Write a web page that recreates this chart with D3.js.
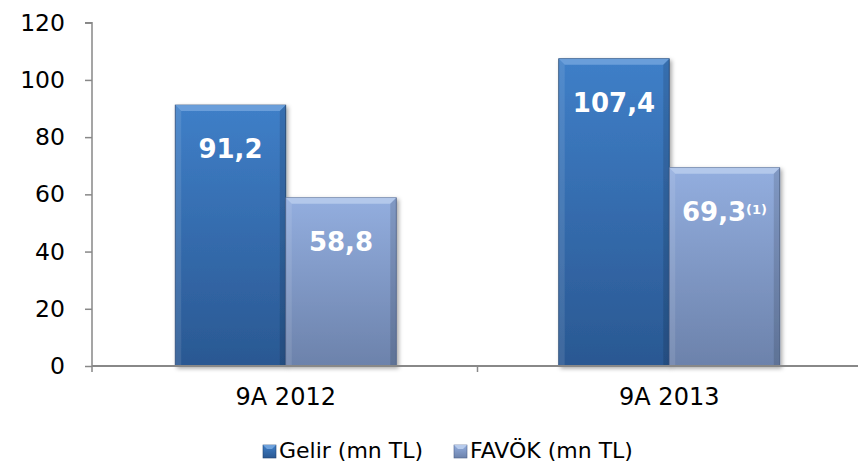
<!DOCTYPE html>
<html>
<head>
<meta charset="utf-8">
<script src="https://cdn.jsdelivr.net/npm/d3@7"></script>
<style>
  body { margin: 0; background: #fff; }
  svg text { font-family: "DejaVu Sans", Verdana, sans-serif; }
</style>
</head>
<body>
<svg id="chart" width="858" height="466"></svg>
<script>
// data
let categories = ["9A 2012", "9A 2013"];
let seriesNames = ["Gelir (mn TL)", "FAVÖK (mn TL)"];
let gelir = [91.2, 107.4];
let favok = [58.8, 69.3];
let valueLabels = [["91,2", "58,8"], ["107,4", "69,3"]];
let labelNotes = [["", ""], ["", "(1)"]];
let yTicks = [0, 20, 40, 60, 80, 100, 120];

let svg = d3.select("#chart");
let opt = {
    left: 92, right: 859, top: 22.7, bottom: 366,
    colors: [
        {top: "#3f7fc8", bottom: "#2a5892", hi: "#6fa2dc", edge: "#1f4270"},
        {top: "#93aedf", bottom: "#6c82ab", hi: "#b7cbec", edge: "#4d628a"}
    ]
};

let defs = svg.append("defs");
opt.colors.forEach((c, i) => {
    let g = defs.append("linearGradient")
        .attr("id", "grad" + i)
        .attr("x1", 0).attr("y1", 0).attr("x2", 0).attr("y2", 1);
    g.append("stop").attr("offset", "0%").attr("stop-color", c.top);
    g.append("stop").attr("offset", "100%").attr("stop-color", c.bottom);
});
let f = defs.append("filter").attr("id", "shadow")
    .attr("x", "-10%").attr("y", "-10%").attr("width", "130%").attr("height", "130%");
f.append("feDropShadow").attr("dx", 2).attr("dy", 2).attr("stdDeviation", 2)
    .attr("flood-color", "#000").attr("flood-opacity", 0.35);

let y = d3.scaleLinear().domain([0, 120]).range([opt.bottom, opt.top]);
let x0 = d3.scaleBand().domain(categories).range([opt.left + 2, opt.right + 2]).padding(0);
let x1 = d3.scaleBand().domain(seriesNames).range([0, x0.bandwidth()])
    .paddingInner(0).paddingOuter(0.735);

let data = categories.map((c, i) => ({cat: c, i: i, vals: [gelir[i], favok[i]]}));

// bars
let groups = svg.append("g").selectAll("g")
    .data(data).enter().append("g")
    .attr("transform", d => "translate(" + x0(d.cat) + ",0)");

groups.each(function (d) {
    let g = d3.select(this);
    d.vals.forEach((v, s) => {
        let bx = x1(seriesNames[s]), bw = x1.bandwidth();
        let by = y(v), bh = y(0) - y(v);
        let c = opt.colors[s];
        let b = g.append("g").attr("filter", "url(#shadow)");
        b.append("rect")
            .attr("x", bx).attr("y", by).attr("width", bw).attr("height", bh)
            .attr("fill", "url(#grad" + s + ")")
            .attr("stroke", c.edge).attr("stroke-width", 0.8);
        // bevel: light top edge, slightly lighter left, darker right
        let e = 6;
        b.append("path")
            .attr("d", `M${bx},${by}L${bx + bw},${by}L${bx + bw - e},${by + e}L${bx + e},${by + e}Z`)
            .attr("fill", c.hi).attr("opacity", 0.9);
        b.append("path")
            .attr("d", `M${bx},${by}L${bx + e},${by + e}L${bx + e},${by + bh}L${bx},${by + bh}Z`)
            .attr("fill", "#fff").attr("opacity", 0.1);
        b.append("path")
            .attr("d", `M${bx + bw},${by}L${bx + bw - e},${by + e}L${bx + bw - e},${by + bh}L${bx + bw},${by + bh}Z`)
            .attr("fill", "#000").attr("opacity", 0.12);

        let t = g.append("text")
            .attr("x", bx + bw / 2)
            .attr("y", by + 53)
            .attr("text-anchor", "middle")
            .attr("fill", "#fff")
            .style("font-size", "26px")
            .style("font-weight", "bold");
        t.append("tspan").text(valueLabels[d.i][s]);
        if (labelNotes[d.i][s]) {
            t.append("tspan")
                .attr("dy", -7)
                .style("font-size", "13px")
                .text(labelNotes[d.i][s]);
        }
    });
});

// y axis
let yAxis = svg.append("g")
    .attr("transform", "translate(" + opt.left + ",0)")
    .call(d3.axisLeft(y).tickValues(yTicks).tickSize(7).tickPadding(20));
yAxis.select(".domain").attr("stroke", "#888").attr("stroke-width", 1.5)
    .attr("d", `M-7,${opt.top}H0V${opt.bottom + 6}`);
yAxis.selectAll(".tick line").attr("stroke", "#888").attr("stroke-width", 1.5);
yAxis.selectAll(".tick text").attr("fill", "#000").style("font-size", "23.5px")
    .attr("font-family", null);

// x axis
let xAxis = svg.append("g")
    .attr("transform", "translate(0," + opt.bottom + ")");
xAxis.append("line")
    .attr("x1", opt.left).attr("x2", opt.right)
    .attr("stroke", "#888").attr("stroke-width", 2);
xAxis.selectAll(".sep")
    .data(categories.slice(1)).enter().append("line")
    .attr("x1", d => x0(d)).attr("x2", d => x0(d))
    .attr("y1", 0).attr("y2", 6)
    .attr("stroke", "#888").attr("stroke-width", 1.5);
xAxis.selectAll(".cat")
    .data(categories).enter().append("text")
    .attr("x", d => x0(d) + x0.bandwidth() / 2)
    .attr("y", 39)
    .attr("text-anchor", "middle")
    .style("font-size", "24px")
    .text(d => d);

// legend
let legendX = [263, 454];
let legend = svg.append("g").selectAll("g")
    .data(seriesNames).enter().append("g")
    .attr("transform", (d, i) => "translate(" + legendX[i] + ",445)");
legend.append("rect")
    .attr("width", 13).attr("height", 13)
    .attr("fill", (d, i) => "url(#grad" + i + ")")
    .attr("stroke", (d, i) => opt.colors[i].edge).attr("stroke-width", 0.6);
legend.append("path")
    .attr("d", "M0,0L13,0L9,4L4,4Z")
    .attr("fill", (d, i) => opt.colors[i].hi);
legend.append("text")
    .attr("x", 16).attr("y", 13)
    .style("font-size", "22px")
    .text(d => d);
</script>
</body>
</html>
